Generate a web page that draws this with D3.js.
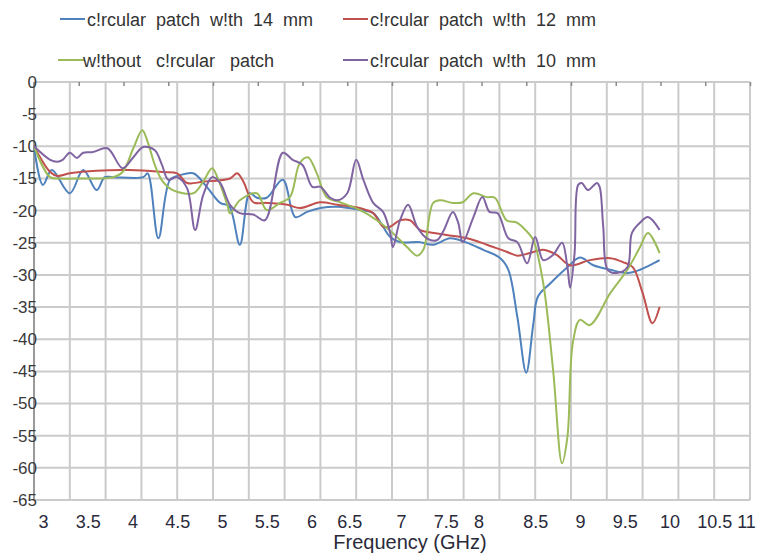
<!DOCTYPE html>
<html>
<head>
<meta charset="utf-8">
<script src="https://cdn.jsdelivr.net/npm/d3@7"></script>
<style>
  body { margin: 0; background: #fff; }
  svg { display: block; font-family: "Liberation Sans", Arial, sans-serif; }
</style>
</head>
<body>
<svg id="chart" width="761" height="557"></svg>
<script>
// series: [frequency GHz, return loss dB]
const patch14 = [
  [3.00, -10], [3.10, -16], [3.20, -13.7], [3.40, -17.3], [3.55, -13.7], [3.70, -16.8],
  [3.79, -14.8], [3.88, -14.8], [4.22, -14.8], [4.27, -14.2], [4.39, -24.3], [4.52, -15.2],
  [4.63, -14.5], [4.78, -14.2], [4.93, -16.3], [5.08, -18.8], [5.18, -19.3], [5.30, -25.3],
  [5.41, -17.3], [5.49, -18], [5.60, -18], [5.78, -15.2], [5.92, -21], [6.05, -20.2],
  [6.20, -19.6], [6.39, -19.4], [6.64, -19.9], [6.79, -20.4], [6.90, -22.5], [6.98, -24.1],
  [7.09, -24.9], [7.31, -24.9], [7.46, -25.3], [7.65, -24.3], [7.82, -24.9], [8.02, -26.1],
  [8.21, -27.4], [8.30, -29.2], [8.40, -36.5], [8.50, -45.2], [8.58, -37.5], [8.63, -33.4],
  [8.77, -31.3], [8.96, -28.8], [9.10, -27.3], [9.25, -28.5], [9.44, -29.2], [9.63, -29.7],
  [9.77, -29.2], [9.99, -27.7]
];
const patch12 = [
  [3.00, -10], [3.18, -14], [3.26, -14.6], [3.40, -14.2], [3.70, -13.8], [4.07, -13.7],
  [4.44, -14], [4.60, -14.2], [4.71, -15.7], [4.89, -15.5], [5.19, -15], [5.27, -14.2],
  [5.34, -15.5], [5.45, -18.7], [5.60, -18.8], [5.83, -19.1], [5.97, -19.6], [6.20, -18.7],
  [6.39, -19.1], [6.64, -19.6], [6.79, -20.4], [6.90, -22.5], [6.98, -22.5], [7.09, -21.5],
  [7.20, -21.5], [7.31, -23], [7.39, -23.3], [7.61, -23.8], [7.84, -24.3], [8.06, -25.3],
  [8.28, -26.4], [8.40, -27], [8.54, -26.6], [8.69, -26.1], [8.84, -26.9], [8.99, -28.5],
  [9.21, -27.7], [9.44, -27.4], [9.58, -28], [9.69, -28.8], [9.80, -32.8], [9.91, -37.5],
  [9.99, -35]
];
const noPatch = [
  [3.00, -10], [3.18, -14.8], [3.29, -15], [3.51, -15], [3.88, -14.8], [3.99, -14],
  [4.11, -10.3], [4.21, -7.5], [4.27, -9.3], [4.35, -12.9], [4.44, -15.5], [4.55, -16.8],
  [4.78, -17.3], [4.89, -15.5], [4.99, -13.4], [5.06, -15.2], [5.16, -19.1], [5.19, -20.4],
  [5.30, -18.4], [5.49, -17.3], [5.60, -19.9], [5.75, -18.8], [5.86, -17.9], [5.97, -12.6],
  [6.06, -11.7], [6.16, -14.2], [6.27, -17.9], [6.42, -18.7], [6.64, -19.9], [6.83, -21.5],
  [7.01, -23.5], [7.17, -25.7], [7.28, -27], [7.35, -26.1], [7.46, -18.8], [7.54, -18.4],
  [7.68, -18.8], [7.79, -18.7], [7.91, -17.3], [8.06, -17.9], [8.15, -18], [8.28, -21.5],
  [8.40, -21.9], [8.51, -23.3], [8.58, -24.6], [8.69, -31.3], [8.80, -44.8], [8.90, -59.3],
  [8.96, -55.2], [9.02, -40.6], [9.10, -37], [9.21, -37.8], [9.44, -32.8], [9.63, -29.2],
  [9.77, -25.7], [9.86, -23.5], [9.99, -26.6]
];
const patch10 = [
  [3.00, -10], [3.18, -12.1], [3.26, -12.4], [3.32, -12.1], [3.40, -11], [3.48, -11.8],
  [3.55, -11], [3.66, -10.9], [3.82, -10.3], [3.99, -13.4], [4.11, -11.7], [4.22, -10.1],
  [4.35, -10.6], [4.43, -12.9], [4.50, -15.2], [4.60, -14.8], [4.71, -16.5], [4.80, -23],
  [4.89, -17.6], [4.99, -14.8], [5.08, -15.7], [5.19, -19.1], [5.30, -20.4], [5.45, -20.6],
  [5.58, -21.5], [5.78, -11], [5.89, -12.1], [6.00, -12.9], [6.11, -16.3], [6.20, -16.3],
  [6.31, -18], [6.39, -18.4], [6.50, -17.3], [6.60, -12.1], [6.68, -15.2], [6.79, -18.8],
  [6.90, -20.2], [6.98, -23.5], [7.01, -25.7], [7.09, -21.5], [7.18, -19.1], [7.28, -22.5],
  [7.39, -24.3], [7.50, -24.6], [7.57, -23.3], [7.68, -20.2], [7.74, -21.9], [7.79, -24.9],
  [7.91, -21], [8.01, -17.9], [8.09, -20.2], [8.18, -20.4], [8.30, -24.3], [8.40, -24.9],
  [8.51, -28.2], [8.60, -24.1], [8.69, -27.7], [8.80, -26.9], [8.90, -25], [8.96, -28.8],
  [8.99, -32], [9.04, -26.6], [9.08, -16], [9.12, -15.7], [9.19, -16.8], [9.29, -15.7],
  [9.32, -16.3], [9.36, -22.5], [9.41, -29.2], [9.51, -29.7], [9.63, -28.8], [9.68, -23.5],
  [9.77, -21.9], [9.86, -21], [9.99, -23]
];

const seriesNames = [
  'c!rcular patch w!th 14 mm',
  'c!rcular patch w!th 12 mm',
  'w!thout c!rcular patch',
  'c!rcular patch w!th 10 mm'
];
const xTickValues = [3, 3.5, 4, 4.5, 5, 5.5, 6, 6.5, 7, 7.5, 8, 8.5, 9, 9.5, 10, 10.5, 11];
const yTickValues = [0, -5, -10, -15, -20, -25, -30, -35, -40, -45, -50, -55, -60, -65];
const xTitle = 'Frequency (GHz)';

const colors = ['#4f81bd', '#c0504d', '#9bbb59', '#8064a2'];
const allSeries = [patch14, patch12, noPatch, patch10];

const svg = d3.select('#chart');
const plot = { left: 34, right: 750, top: 82, bottom: 500 };

const x = d3.scaleLinear().domain([3, 11]).range([plot.left, plot.right]);
const y = d3.scaleLinear().domain([0, -65]).range([plot.top, plot.bottom]);

// grid
const grid = svg.append('g');
grid.selectAll('line.h')
  .data(yTickValues)
  .enter().append('line')
  .attr('x1', plot.left).attr('x2', plot.right)
  .attr('y1', d => y(d)).attr('y2', d => y(d))
  .attr('stroke', '#cbcbcb').attr('stroke-width', 2);

grid.selectAll('line.v')
  .data(d3.range(0, 21).map(i => 3 + i * 0.4))
  .enter().append('line')
  .attr('x1', d => x(d)).attr('x2', d => x(d))
  .attr('y1', plot.top).attr('y2', plot.bottom)
  .attr('stroke', '#cbcbcb').attr('stroke-width', 2);

// small ticks along the top edge
svg.append('g')
  .attr('transform', `translate(0,${plot.top})`)
  .call(d3.axisTop(x).tickValues(xTickValues).tickSize(-4).tickFormat(''))
  .call(g => g.select('.domain').remove())
  .call(g => g.selectAll('line').attr('stroke', '#8a8a8a').attr('stroke-width', 1.5));

// left axis line
svg.append('line')
  .attr('x1', plot.left).attr('x2', plot.left)
  .attr('y1', plot.top).attr('y2', plot.bottom)
  .attr('stroke', '#9a9a9a').attr('stroke-width', 2);

// y axis labels
svg.append('g')
  .attr('transform', `translate(${plot.left},0)`)
  .call(d3.axisLeft(y).tickValues(yTickValues).tickSize(0).tickPadding(-3).tickFormat(d => String(d)))
  .call(g => g.select('.domain').remove())
  .call(g => g.selectAll('text')
    .attr('font-size', 17)
    .attr('font-family', '"Liberation Sans", Arial, sans-serif')
    .attr('fill', '#3a3a3a'));

// x axis labels (sit a little right of their ticks, as in the reference)
svg.append('g')
  .attr('transform', `translate(0,${plot.bottom})`)
  .call(d3.axisBottom(x).tickValues(xTickValues).tickSize(0).tickPadding(15).tickFormat(d => String(d)))
  .call(g => g.select('.domain').remove())
  .call(g => g.selectAll('text')
    .attr('font-size', 18)
    .attr('font-family', '"Liberation Sans", Arial, sans-serif')
    .attr('fill', '#2a2a3a')
    .attr('dx', d => d === 11 ? -4 : d === 6.5 ? 2 : d === 8 ? -3 : 9));

svg.append('text')
  .attr('x', 410).attr('y', 549)
  .attr('text-anchor', 'middle')
  .attr('font-size', 20)
  .attr('fill', '#2a2a3a')
  .text(xTitle);

// lines
const line = d3.line()
  .x(d => x(d[0]))
  .y(d => y(d[1]))
  .curve(d3.curveCatmullRom.alpha(0.5));

svg.append('g').selectAll('path')
  .data(allSeries)
  .enter().append('path')
  .attr('fill', 'none')
  .attr('stroke', (d, i) => colors[i])
  .attr('stroke-width', 2)
  .attr('stroke-linejoin', 'round')
  .attr('d', line);

// legend, two rows of two
const legend = svg.append('g');
const item = legend.selectAll('g')
  .data(seriesNames)
  .enter().append('g')
  .attr('transform', (d, i) => `translate(${i % 2 === 0 ? 60 : 343},${i < 2 ? 19 : 60})`);

item.append('line')
  .attr('x1', (d, i) => i === 2 ? -2 : 0).attr('x2', 25)
  .attr('y1', 0).attr('y2', 0)
  .attr('stroke', (d, i) => colors[i])
  .attr('stroke-width', 2);

item.append('text')
  .attr('x', (d, i) => i === 2 ? 23 : 27)
  .attr('y', 7)
  .attr('font-size', 18)
  .attr('word-spacing', (d, i) => i === 2 ? 10 : 5)
  .attr('fill', '#333')
  .text(d => d);
</script>
</body>
</html>
